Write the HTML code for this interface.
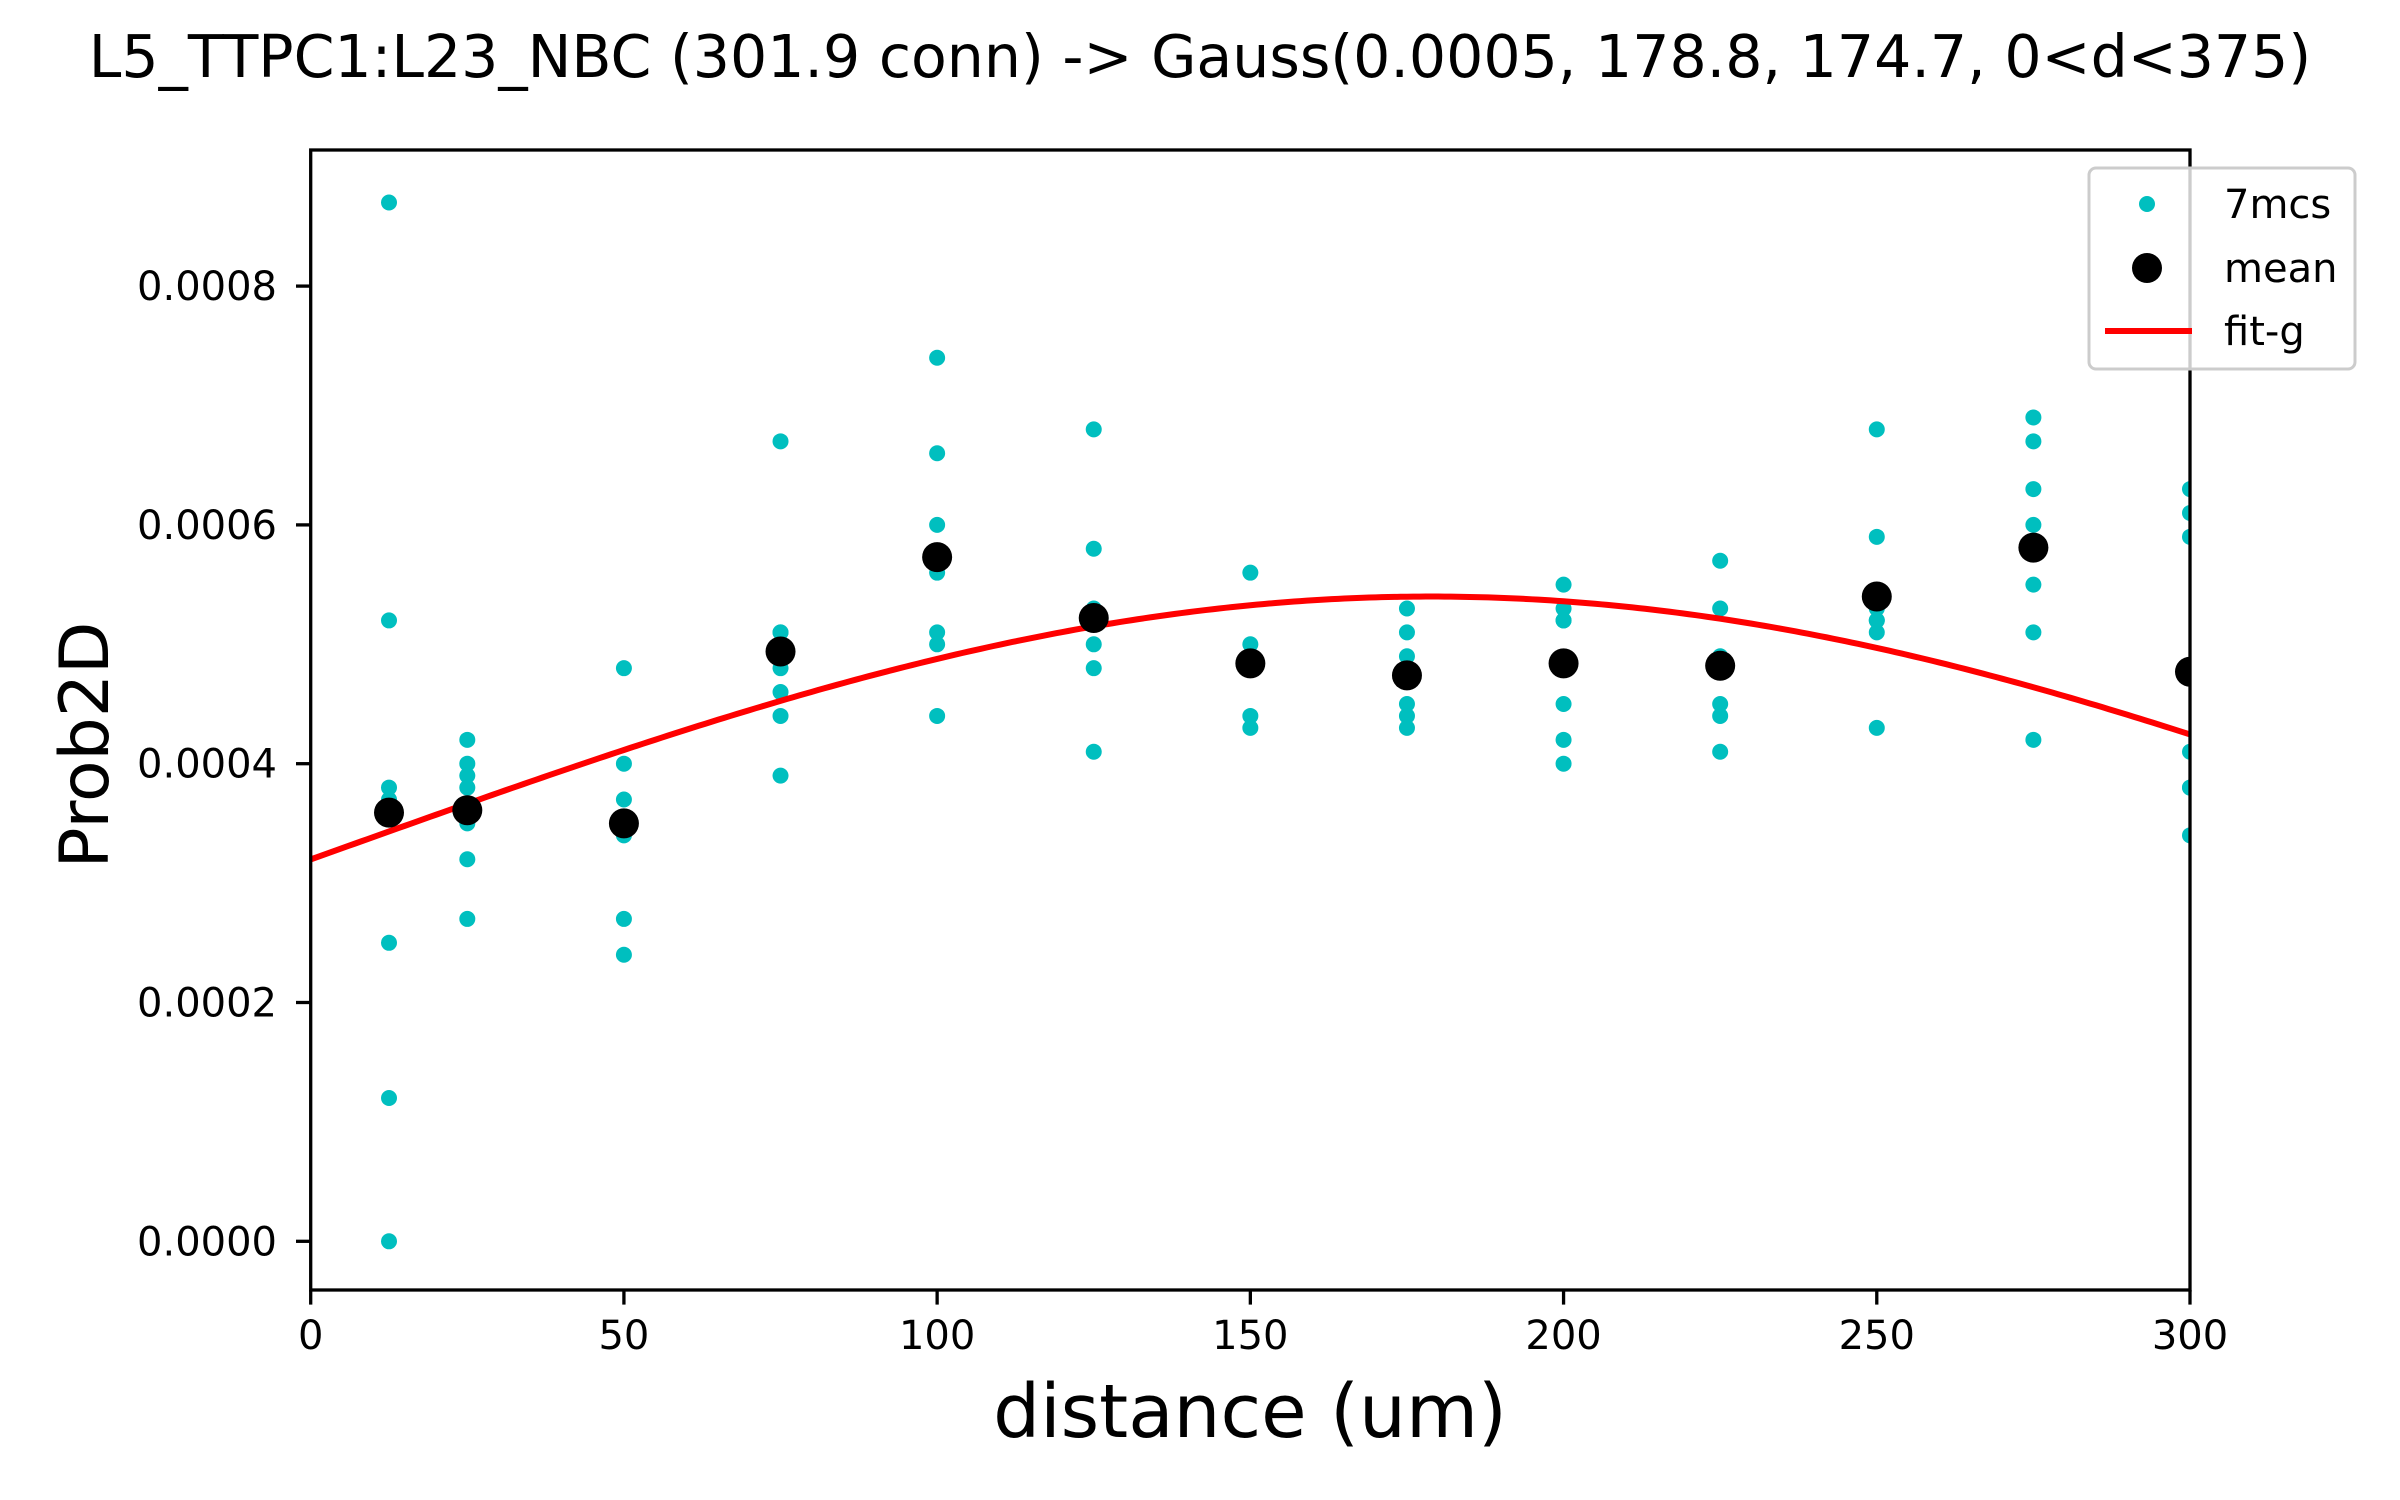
<!DOCTYPE html>
<html><head><meta charset="utf-8"><style>
html,body{margin:0;padding:0;background:#fff;}
svg{display:block;font-family:"DejaVu Sans","Liberation Sans",sans-serif;}
</style></head><body>
<svg id="chart" width="2400" height="1500" viewBox="0 0 2400 1500" xmlns="http://www.w3.org/2000/svg">
<rect width="2400" height="1500" fill="#fff"/>
<defs><clipPath id="clip"><rect x="310.7" y="150" width="1879.3" height="1140"/></clipPath></defs>
<text x="1200" y="77" font-size="58.5" text-anchor="middle">L5_TTPC1:L23_NBC (301.9 conn) -&gt; Gauss(0.0005, 178.8, 174.7, 0&lt;d&lt;375)</text>
<g id="xticks"></g>
<g id="yticks"></g>
<g id="plot" clip-path="url(#clip)"></g>
<rect x="310.7" y="150" width="1879.3" height="1140" fill="none" stroke="#000" stroke-width="3.3"/>
<text x="1250" y="1437" font-size="74" text-anchor="middle">distance (um)</text>
<text transform="translate(108,745) rotate(-90)" font-size="68" text-anchor="middle">Prob2D</text>
<g>
<rect x="2089" y="168" width="266" height="201" rx="7" fill="#fff" fill-opacity="0.8" stroke="#ccc" stroke-width="3"/>
<circle cx="2147" cy="204" r="8" fill="#00bfbf"/>
<text x="2224" y="218" font-size="40">7mcs</text>
<circle cx="2147" cy="268" r="15" fill="#000"/>
<text x="2224" y="282" font-size="40">mean</text>
<line x1="2105" y1="331" x2="2192" y2="331" stroke="#f00" stroke-width="6"/>
<text x="2224" y="345" font-size="40">fit-g</text>
</g>
</svg>
<script>
const xCats = [12.5,25,50,75,100,125,150,175,200,225,250,275,300];
const samples = [
 [0.00087,0.00052,0.00038,0.00037,0.00025,0.00012,0.0],
 [0.00042,0.0004,0.00039,0.00038,0.00035,0.00032,0.00027],
 [0.00048,0.0004,0.00037,0.00035,0.00034,0.00027,0.00024],
 [0.00067,0.00051,0.00051,0.00048,0.00046,0.00044,0.00039],
 [0.00074,0.00066,0.0006,0.00056,0.00051,0.0005,0.00044],
 [0.00068,0.00058,0.00053,0.00052,0.0005,0.00048,0.00041],
 [0.00056,0.0005,0.00049,0.00049,0.00048,0.00044,0.00043],
 [0.00053,0.00051,0.00049,0.00047,0.00045,0.00044,0.00043],
 [0.00055,0.00053,0.00052,0.00052,0.00045,0.00042,0.0004],
 [0.00057,0.00053,0.00049,0.00048,0.00045,0.00044,0.00041],
 [0.00068,0.00059,0.00053,0.00052,0.00052,0.00051,0.00043],
 [0.00069,0.00067,0.00063,0.0006,0.00055,0.00051,0.00042],
 [0.00063,0.00061,0.00059,0.00041,0.00038,0.00038,0.00034]
];
const means = [0.000359,0.000361,0.00035,0.000494,0.000573,0.000522,0.000484,0.000474,0.000484,0.000482,0.00054,0.000581,0.000477];
const fitParams = [0.00054,178.8,174.7];
const xTickVals = [0,50,100,150,200,250,300];
const yTickVals = [0,0.0002,0.0004,0.0006,0.0008];
const yTickLabels = ["0.0000","0.0002","0.0004","0.0006","0.0008"];

const NS="http://www.w3.org/2000/svg";
const X0=310.7, X1=2190, Y0=1241.3, YPER=238.8;
function sx(v){return X0+(v/300)*(X1-X0);}
function sy(v){return Y0-(v/0.0002)*YPER;}
function mk(tag,attrs,parent){const e=document.createElementNS(NS,tag);for(const k in attrs)e.setAttribute(k,attrs[k]);parent.appendChild(e);return e;}
const plot=document.getElementById('plot'), xt=document.getElementById('xticks'), yt=document.getElementById('yticks');

xTickVals.forEach(v=>{
  const l=mk('line',{x1:sx(v),x2:sx(v),y1:1290,y2:1304.6,stroke:'#000','stroke-width':3.3},xt);
  
  
  const t=mk('text',{x:sx(v),y:1349,'font-size':40,'text-anchor':'middle'},xt);
  t.textContent=String(v);
  
  
});
yTickVals.forEach((v,i)=>{
  const l=mk('line',{x1:296,x2:310.7,y1:sy(v),y2:sy(v),stroke:'#000','stroke-width':3.3},yt);
  
  
  const t=mk('text',{x:277,y:sy(v)+14,'font-size':40,'text-anchor':'end'},yt);
  t.textContent=yTickLabels[i];
  
  
});
xCats.forEach((x,i)=>{
  samples[i].forEach((v,j)=>{
    const c=mk('circle',{cx:sx(x),cy:sy(v),r:8,fill:'#00bfbf'},plot);
    
    
  });
});
let d='';
for(let k=0;k<=300;k++){
  const x=k;
  const y=fitParams[0]*Math.exp(-Math.pow(x-fitParams[1],2)/(2*fitParams[2]*fitParams[2]));
  d+=(k?'L':'M')+sx(x).toFixed(2)+' '+sy(y).toFixed(2);
}
const fit=mk('path',{d:d,fill:'none',stroke:'#f00','stroke-width':6},plot);


xCats.forEach((x,i)=>{
  const c=mk('circle',{cx:sx(x),cy:sy(means[i]),r:15,fill:'#000'},plot);
  
  
});
</script>
</body></html>
